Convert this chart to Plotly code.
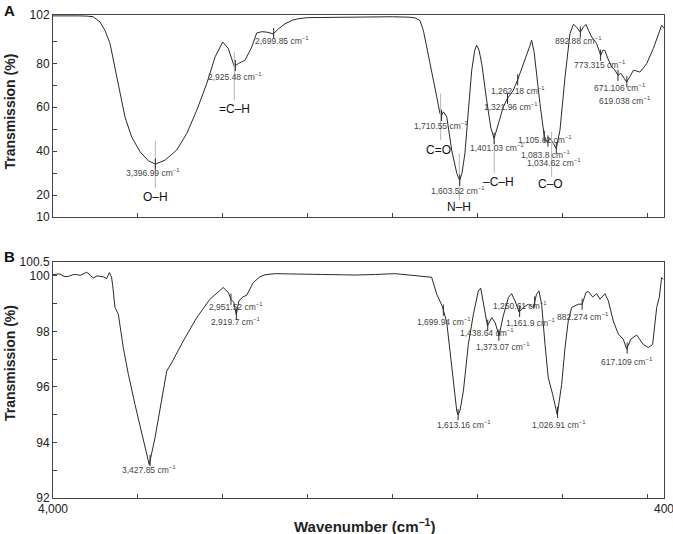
import numpy as np
import plotly.graph_objects as go
from plotly.subplots import make_subplots

# spectrum A (wavenumber, transmission %)
wn_a = [4000, 3950, 3900, 3850, 3800, 3763, 3723, 3694, 3664, 3635, 3605, 3576, 3537, 3487, 3438,
        3397, 3340, 3271, 3212, 3153, 3094, 3045, 3000, 2967, 2932, 2908, 2869, 2829, 2800, 2770,
        2740, 2702, 2670, 2633, 2590, 2555, 2500, 2417, 2300, 2200, 2100, 2000, 1900, 1867, 1838,
        1818, 1798, 1769, 1739, 1720, 1711, 1700, 1680, 1651, 1621, 1604, 1590, 1573, 1553, 1533,
        1515, 1504, 1490, 1474, 1445, 1420, 1401, 1376, 1347, 1322, 1288, 1262, 1219, 1190, 1180,
        1165, 1131, 1111, 1105, 1088, 1072, 1052, 1035, 1013, 983, 954, 934, 915, 893, 875,
        860, 845, 826, 797, 773, 760, 748, 730, 708, 690, 671, 655, 640, 620, 600,
        581, 562, 542, 520, 502, 463, 434, 414, 400]
t_a = [101.6, 101.7, 101.5, 101.6, 101.5, 101.2, 98.8, 95.0, 89.0, 78.3, 66.2, 55.6, 46.5, 39.7, 35.6,
       34.1, 35.9, 40.5, 48.0, 58.6, 70.8, 82.9, 89.7, 86.7, 78.6, 79.9, 81.4, 87.4, 93.8, 94.4,
       94.2, 93.4, 95.8, 98.0, 99.6, 100.3, 100.8, 100.9, 101.1, 101.3, 101.3, 101.2, 101.0, 100.7, 99.5,
       95.0, 87.4, 76.8, 64.7, 57.1, 56.2, 57.9, 55.6, 40.5, 29.9, 26.6, 30.0, 39.0, 58.6, 76.8,
       86.0, 88.2, 86.0, 79.9, 63.2, 50.5, 45.8, 52.6, 60.1, 64.0, 67.7, 72.5, 81.4, 88.0, 90.5,
       85.0, 61.7, 49.5, 46.5, 44.2, 45.8, 43.5, 41.2, 49.5, 73.8, 93.5, 97.7, 96.5, 94.2, 96.5,
       97.7, 95.0, 92.0, 89.0, 83.6, 86.0, 85.9, 82.0, 78.3, 77.0, 74.5, 75.5, 73.8, 71.5, 74.0,
       76.8, 76.5, 76.0, 78.0, 79.9, 86.7, 93.5, 97.3, 96.0]

# spectrum B
wn_b = [4000, 3959, 3935, 3910, 3885, 3864, 3840, 3801, 3780, 3763, 3740, 3723, 3700, 3684, 3668,
        3655, 3648, 3635, 3615, 3586, 3556, 3517, 3477, 3433, 3399, 3360, 3330, 3301, 3232, 3153,
        3075, 2997, 2967, 2951, 2935, 2920, 2905, 2880, 2859, 2820, 2780, 2751, 2692, 2600, 2500,
        2417, 2300, 2221, 2100, 1985, 1900, 1828, 1769, 1739, 1706, 1690, 1680, 1661, 1641, 1621,
        1613, 1602, 1582, 1553, 1523, 1494, 1480, 1460, 1440, 1415, 1395, 1372, 1347, 1317, 1298,
        1278, 1254, 1229, 1200, 1170, 1151, 1137, 1121, 1101, 1082, 1056, 1029, 1003, 983, 964,
        944, 905, 882, 860, 846, 820, 797, 777, 748, 728, 699, 669, 640, 620, 596,
        561, 522, 493, 467, 443, 428, 414, 404]
t_b = [100.05, 100.07, 99.98, 99.98, 100.04, 100.05, 100.02, 100.13, 100.02, 99.92, 100.0, 99.98, 99.96, 99.9, 100.12,
       99.95, 99.64, 98.86, 98.62, 97.42, 96.45, 95.37, 94.29, 93.2, 94.17, 95.49, 96.57, 96.87, 97.66, 98.5,
       99.16, 99.58, 99.4, 99.15, 99.05, 98.6, 99.1, 99.25, 99.3, 99.76, 99.97, 100.04, 100.08, 100.07, 100.05,
       100.05, 100.04, 100.03, 100.05, 100.08, 100.03, 99.98, 99.95, 99.34, 98.9, 98.55, 98.32, 97.3, 96.09, 95.13,
       95.0, 95.15, 95.85, 97.53, 98.62, 99.46, 99.56, 98.86, 98.2, 98.5, 98.32, 97.84, 98.56, 99.22, 99.36,
       99.1, 98.7, 98.86, 98.98, 98.86, 99.34, 99.46, 98.98, 97.53, 96.33, 95.73, 95.0, 96.09, 97.42, 98.38,
       98.86, 98.98, 98.98, 99.4, 99.44, 99.24, 99.36, 99.16, 99.36, 99.1, 98.38, 97.9, 97.72, 97.36, 97.72,
       97.87, 97.53, 97.42, 97.53, 98.86, 99.22, 99.94, 99.88]

# labelled peaks
peaks_a = [3396.99, 2925.48, 2699.85, 1710.55, 1603.52, 1401.03, 1321.96, 1262.18,
           1105.61, 1083.8, 1034.62, 892.88, 773.315, 671.106, 619.038]
peak_text_a = ["3,396.99", "2,925.48", "2,699.85", "1,710.55", "1,603.52", "1,401.03", "1,321.96", "1,262.18",
               "1,105.61", "1,083.8", "1,034.62", "892.88", "773.315", "671.106", "619.038"]
lab_x_a = [3411, 2928, 2651, 1712, 1614, 1386, 1301, 1260, 1099, 1094, 1049, 902, 778, 662, 627]
lab_y_a = [30.3, 73.8, 90.5, 51.8, 22.0, 41.7, 60.1, 67.7, 45.3, 38.6, 34.7, 90.2, 79.5, 69.0, 63.2]

peaks_b = [3427.85, 2951.52, 2919.7, 1699.94, 1613.16, 1438.64, 1373.07, 1250.61,
           1161.9, 1026.91, 882.274, 617.109]
peak_text_b = ["3,427.85", "2,951.52", "2,919.7", "1,699.94", "1,613.16", "1,438.64", "1,373.07", "1,250.61",
               "1,161.9", "1,026.91", "882.274", "617.109"]
lab_x_b = [3434, 2924, 2924, 1694, 1577, 1445, 1350, 1248, 1184, 1016, 880, 620]
lab_y_b = [93.01, 98.88, 98.37, 98.34, 94.64, 97.97, 97.44, 98.93, 98.33, 94.64, 98.55, 96.92]

# functional groups (panel A)
groups = ["O–H", "=C–H", "C=O", "N–H", "–C–H", "C–O"]
group_wn = [3397, 2932, 1716, 1606, 1400, 1062]
group_lo = [23.0, 63.2, 45.0, 17.7, 29.9, 28.3]
group_hi = [44.7, 85.1, 66.2, 39.0, 45.0, 48.8]
group_lab_x = [3399, 2932, 1730, 1606, 1378, 1066]
group_lab_y = [19.0, 59.0, 40.5, 14.4, 26.0, 24.9]

FONT = "Arial, Liberation Sans, sans-serif"
LINE = "#2a2a2a"

fig = make_subplots(rows=2, cols=1, vertical_spacing=0.093)
fig.update_layout(
    width=673, height=534, margin=dict(l=53, r=9, t=15, b=36, autoexpand=False),
    paper_bgcolor="white", plot_bgcolor="white", showlegend=False,
    font=dict(family=FONT, size=12, color="#222"),
)
fig.update_yaxes(domain=[0.5818, 1.0], row=1, col=1)
fig.update_yaxes(domain=[0.0, 0.4886], row=2, col=1)

for row, wn, t in [(1, wn_a, t_a), (2, wn_b, t_b)]:
    fig.add_trace(go.Scatter(x=wn, y=t, mode="lines", line=dict(color=LINE, width=1),
                             hoverinfo="skip"), row=row, col=1)

# functional group guide lines
gx, gy = [], []
for w, lo, hi in zip(group_wn, group_lo, group_hi):
    gx += [w, w, None]
    gy += [lo, hi, None]
fig.add_trace(go.Scatter(x=gx, y=gy, mode="lines", line=dict(color="#b5b5b5", width=1),
                         hoverinfo="skip"), row=1, col=1)

# peak tick marks
for row, pk, wn, t in [(1, peaks_a, wn_a, t_a), (2, peaks_b, wn_b, t_b)]:
    py = np.interp(pk, wn[::-1], t[::-1])
    fig.add_trace(go.Scatter(x=pk, y=py, mode="markers",
                             marker=dict(symbol="line-ns-open", size=8, color=LINE,
                                         line=dict(color=LINE, width=1)),
                             hoverinfo="skip"), row=row, col=1)

for row, txt, lx, ly in [(1, peak_text_a, lab_x_a, lab_y_a), (2, peak_text_b, lab_x_b, lab_y_b)]:
    for s, x, y in zip(txt, lx, ly):
        fig.add_annotation(x=x, y=y, text=s + " cm<sup>−1</sup>", showarrow=False,
                           font=dict(size=8.5, color="#444"), row=row, col=1)

for g, x, y in zip(groups, group_lab_x, group_lab_y):
    fig.add_annotation(x=x, y=y, text=g, showarrow=False, font=dict(size=12, color="#111"),
                       row=1, col=1)

x_ticks = [4000, 3500, 3000, 2500, 2000, 1500, 1000, 500, 400]
x_text = ["4,000", "", "", "", "", "", "", "", "400"]
axis_style = dict(showline=True, mirror=True, linecolor="#444", linewidth=1, automargin=False,
                  ticks="inside", ticklen=4, tickcolor="#444", showgrid=False, zeroline=False,
                  ticklabeloverflow="allow")
fig.update_xaxes(range=[4000, 400], tickvals=x_ticks, ticktext=x_text, **axis_style)
fig.update_xaxes(showticklabels=False, row=1, col=1)

fig.update_yaxes(range=[10, 102], tickvals=[10, 20, 30, 40, 50, 60, 70, 80, 90, 102],
                 ticktext=["10", "20", "", "40", "", "60", "", "80", "", "102"],
                 row=1, col=1, **axis_style)
fig.update_yaxes(range=[92, 100.5], tickvals=[92, 93, 94, 95, 96, 97, 98, 99, 100, 100.5],
                 ticktext=["92", "", "94", "", "96", "", "98", "", "100", "100.5"],
                 row=2, col=1, **axis_style)

# axis titles and panel letters
title_font = dict(size=14, color="#222")
for ty in [0.8, 0.2795]:
    fig.add_annotation(x=-0.0704, y=ty, xref="paper", yref="paper", text="<b>Transmission (%)</b>",
                       textangle=-90, xanchor="center", yanchor="middle", showarrow=False,
                       font=title_font)
fig.add_annotation(x=0.51, y=-0.056, xref="paper", yref="paper",
                   text="<b>Wavenumber (cm<sup>−1</sup>)</b>", xanchor="center", yanchor="middle",
                   showarrow=False, font=dict(size=15, color="#222"))
fig.add_annotation(x=-0.083, y=1.031, xref="paper", yref="paper", text="<b>A</b>",
                   xanchor="left", yanchor="top", showarrow=False, font=dict(size=15, color="#111"))
fig.add_annotation(x=-0.083, y=0.521, xref="paper", yref="paper", text="<b>B</b>",
                   xanchor="left", yanchor="top", showarrow=False, font=dict(size=15, color="#111"))

fig.write_html("out.html", config={"displayModeBar": False},
               post_script="document.body.style.margin='0';")
